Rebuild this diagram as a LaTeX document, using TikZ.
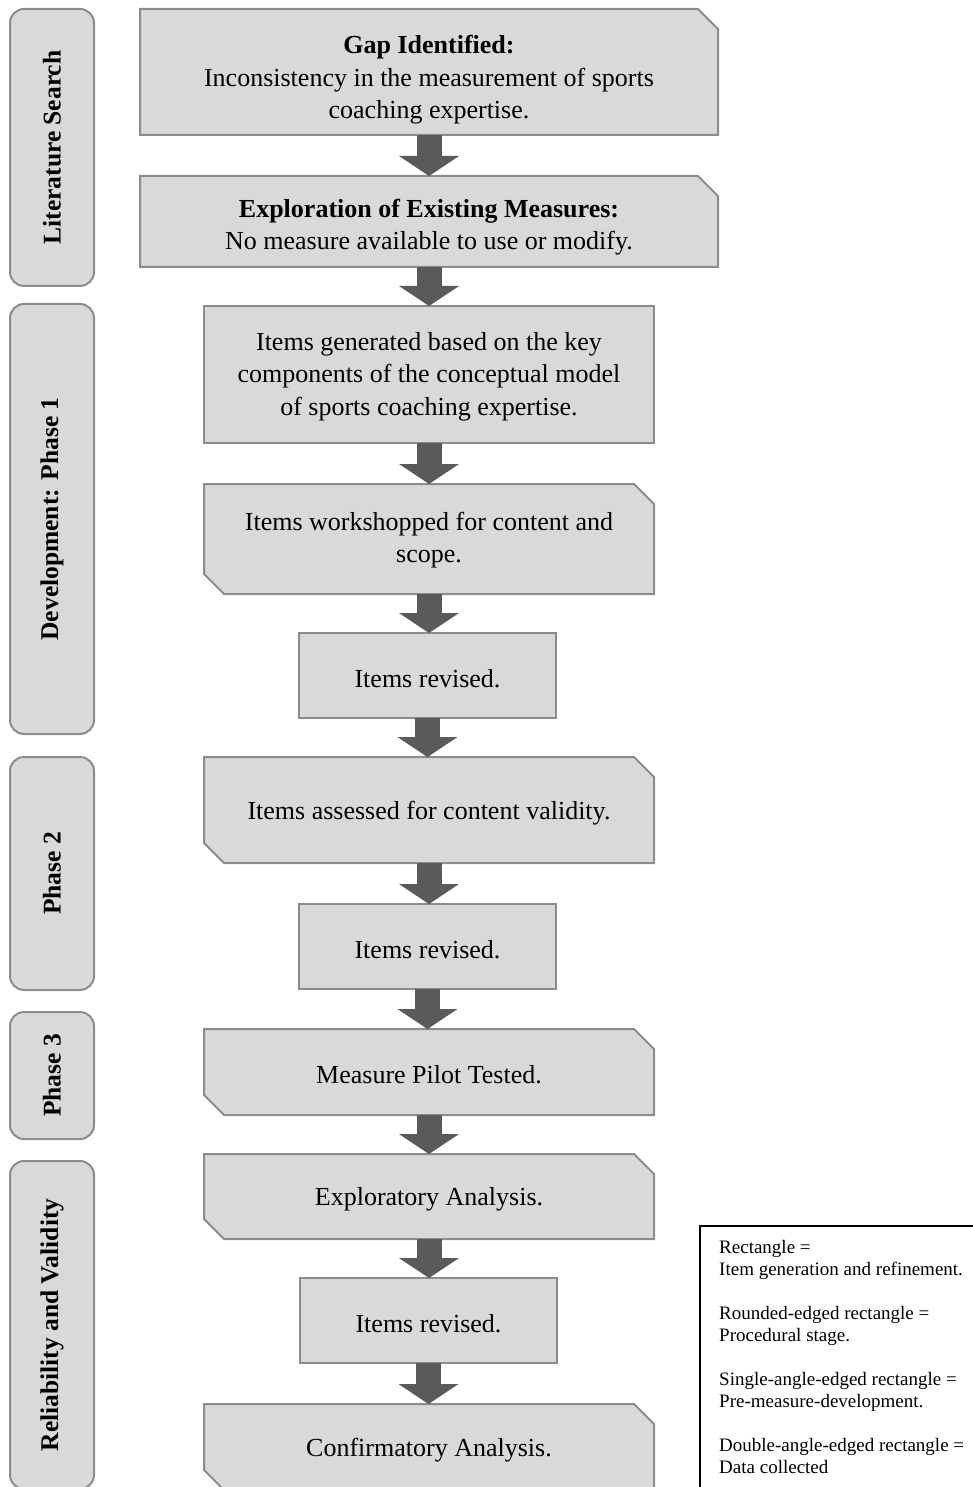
\documentclass[tikz,border=0pt]{standalone}
\usepackage{fontspec}
\setmainfont{Liberation Serif}
\usetikzlibrary{arrows.meta,backgrounds}
\definecolor{boxfill}{HTML}{D9D9D9}
\definecolor{boxline}{HTML}{8C8C8C}
\definecolor{arrowc}{HTML}{5A5A5A}
\newcommand\shapeplain[1]{\path[outl] (#1.north west) rectangle (#1.south east);}
\newcommand\shapesingle[1]{\path[outl] (#1.north west) -- ([xshift=-20pt]#1.north east) -- ([yshift=-20pt]#1.north east) -- (#1.south east) -- (#1.south west) -- cycle;}
\newcommand\shapedouble[1]{\path[outl] (#1.north west) -- ([xshift=-20pt]#1.north east) -- ([yshift=-20pt]#1.north east) -- (#1.south east) -- ([xshift=20pt]#1.south west) -- ([yshift=20pt]#1.south west) -- cycle;}
\begin{document}
\begin{tikzpicture}[x=1pt,y=-1pt,
  outl/.style={draw=boxline, fill=boxfill, line width=2pt, line join=miter},
  lift/.style={execute at begin node={\rule{0pt}{#1}}},
  stage/.style={align=center, inner sep=0pt, outer sep=0pt, font=\fontsize{26}{32.5}\selectfont},
  widebox/.style={stage, minimum width=578pt},
  midbox/.style={stage, minimum width=450pt},
  smallbox/.style={stage, minimum width=257pt, minimum height=85pt, lift=24pt},
  side/.style={draw=boxline, fill=boxfill, line width=2pt, rounded corners=14pt, minimum width=84pt, inner sep=0pt, font=\fontsize{25.5}{30}\selectfont\bfseries},
  flow/.style={draw=arrowc, line width=25pt, -{Triangle[width=60pt,length=20pt,line width=0pt]}},
  legtext/.style={align=left, inner sep=0pt, anchor=north west, font=\fontsize{19}{22}\selectfont}
]
\useasboundingbox (0,0) rectangle (973,1487);
\clip (0,0) rectangle (973,1487);

% side stage labels
\node[side, minimum height=277pt] (s1) at (52,147.5) {\rotatebox{90}{Literature Search}};
\node[side, minimum height=430pt] (s2) at (52,519) {\rotatebox{90}{Development: Phase 1}};
\node[side, minimum height=233pt] (s3) at (52,873.5) {\rotatebox{90}{Phase 2}};
\node[side, minimum height=127pt] (s4) at (52,1075.5) {\rotatebox{90}{Phase 3}};
\node[side, minimum height=328pt] (s5) at (52,1325) {\rotatebox{90}{Reliability and Validity}};

% main boxes
\node[widebox, minimum height=126pt, lift=99pt] (b1) at (429,72) {\textbf{Gap Identified:}\\Inconsistency in the measurement of sports\\coaching expertise.};
\node[widebox, minimum height=91pt, lift=62pt] (b2) at (429,221.5) {\textbf{Exploration of Existing Measures:}\\No measure available to use or modify.};
\node[midbox, minimum height=137pt, lift=87pt] (b3) at (429,374.5) {Items generated based on the key\\components of the conceptual model\\of sports coaching expertise.};
\node[midbox, minimum height=110pt, lift=53pt] (b4) at (429,539) {Items workshopped for content and\\scope.};
\node[smallbox] (b5) at (427.5,675.5) {Items revised.};
\node[midbox, minimum height=106pt, lift=24pt] (b6) at (429,810) {Items assessed for content validity.};
\node[smallbox] (b7) at (427.5,946.5) {Items revised.};
\node[midbox, minimum height=86pt, lift=24pt] (b8) at (429,1072) {Measure Pilot Tested.};
\node[midbox, minimum height=85pt, lift=24pt] (b9) at (429,1196.5) {Exploratory Analysis.};
\node[smallbox] (b10) at (428.5,1320.5) {Items revised.};
\node[midbox, minimum height=86pt, lift=24pt] (b11) at (429,1447) {Confirmatory Analysis.};

\begin{pgfonlayer}{background}
\shapesingle{b1}
\shapesingle{b2}
\shapeplain{b3}
\shapedouble{b4}
\shapeplain{b5}
\shapedouble{b6}
\shapeplain{b7}
\shapedouble{b8}
\shapedouble{b9}
\shapeplain{b10}
\shapedouble{b11}
\end{pgfonlayer}

% block arrows
\draw[flow] (b1.south) -- (b2.north);
\draw[flow] (b2.south) -- (b3.north);
\draw[flow] (b3.south) -- (b4.north);
\draw[flow] (b4.south) -- (b4.south |- b5.north);
\draw[flow] (b5.south) -- (b5.south |- b6.north);
\draw[flow] (b6.south) -- (b6.south |- b7.north);
\draw[flow] (b7.south) -- (b7.south |- b8.north);
\draw[flow] (b8.south) -- (b9.north);
\draw[flow] (b9.south) -- (b9.south |- b10.north);
\draw[flow] (b10.south) -- (b10.south |- b11.north);

% legend
\draw[black, line width=1.5pt] (700,1226) rectangle (990,1510);
\node[legtext] (legend) at (719,1240) {Rectangle =\\Item generation and refinement.\\[22pt]Rounded-edged rectangle =\\Procedural stage.\\[22pt]Single-angle-edged rectangle =\\Pre-measure-development.\\[22pt]Double-angle-edged rectangle =\\Data collected};
\end{tikzpicture}
\end{document}
